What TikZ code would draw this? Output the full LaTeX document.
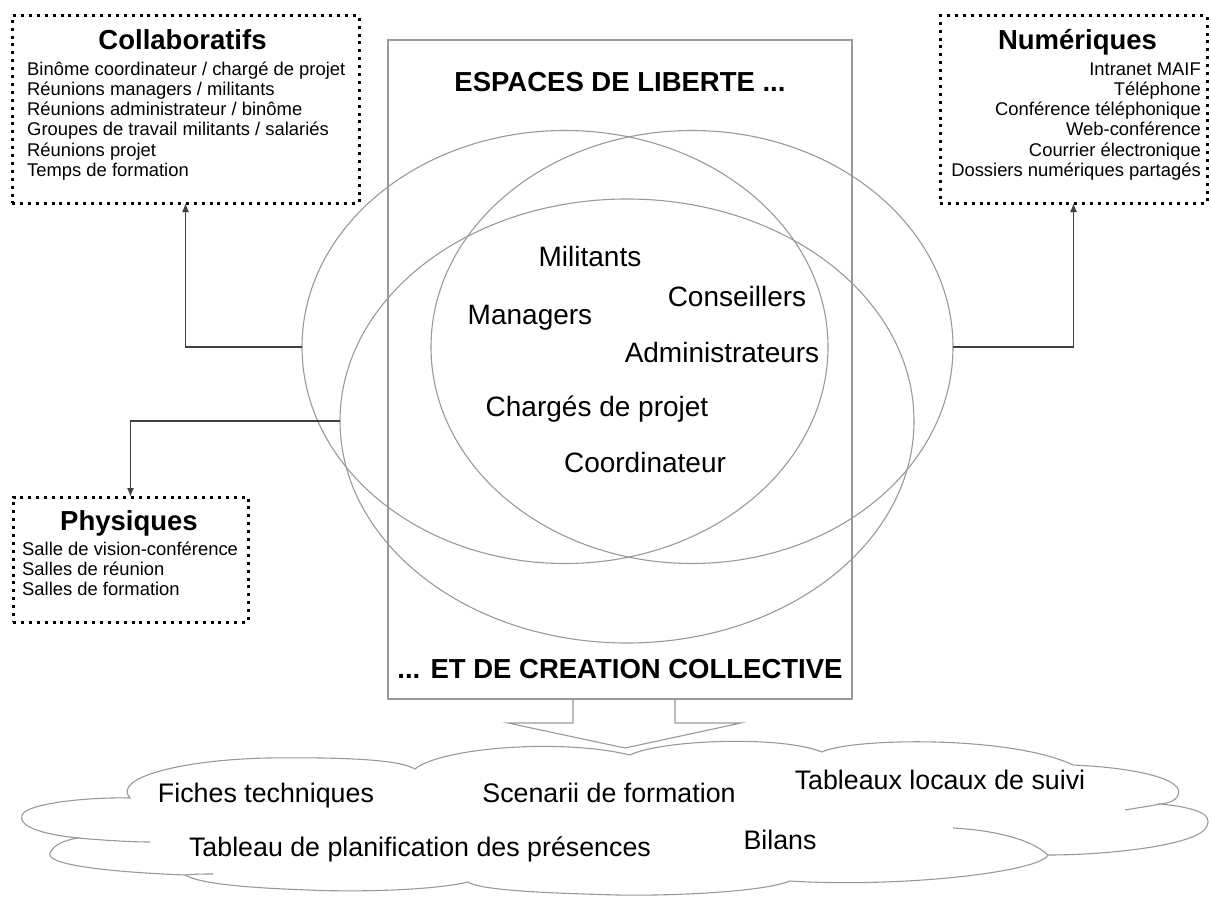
\documentclass[tikz,border=0pt]{standalone}
\usepackage{fontspec}
\setmainfont{Liberation Sans}
\usetikzlibrary{shapes.geometric,arrows.meta}

\begin{document}
\begin{tikzpicture}[x=1pt, y=-1pt,
    venn/.style={draw=black!40, line width=1.1pt, ellipse, inner sep=0pt, outer sep=0pt},
    frame/.style={draw=black!40, line width=1.1pt, inner sep=0pt, outer sep=0pt},
    listbox/.style={draw, line width=3pt, dash pattern=on 3pt off 4.9pt, inner sep=0pt, outer sep=0pt},
    link/.style={draw=black!75, line width=1.3pt, -{Latex[length=9pt,width=7pt]}},
    cloudline/.style={draw=black!40, line width=1.1pt},
    head/.style={font=\bfseries\fontsize{27.5}{31}\selectfont, anchor=base, inner sep=0pt},
    item/.style={font=\fontsize{18.4}{20.3}\selectfont, inner sep=0pt},
    actor/.style={font=\fontsize{28}{32}\selectfont, anchor=base, inner sep=0pt},
    word/.style={font=\fontsize{26.8}{31}\selectfont, anchor=base, inner sep=0pt}]
    \useasboundingbox (0,0) rectangle (1211,899);

    % central frame and the three ellipses
    \node[frame, minimum width=464pt, minimum height=659pt] (espace) at (620,369.5) {};
    \node[venn, minimum width=526pt, minimum height=433pt] (ellL) at (565,347) {};
    \node[venn, minimum width=522pt, minimum height=433pt] (ellR) at (692,347) {};
    \node[venn, minimum width=574pt, minimum height=444pt] (ellB) at (627,421) {};

    \node[head] (liberte) at (620,92) {ESPACES DE LIBERTE ...};
    \node[head] (creation) at (620,678) {... ET DE CREATION COLLECTIVE};

    \node[actor] (militants) at (590,266) {Militants};
    \node[actor] (conseillers) at (737,306) {Conseillers};
    \node[actor] (managers) at (530,324) {Managers};
    \node[actor] (admins) at (722,362) {Administrateurs};
    \node[actor] (charges) at (597,416) {Chargés de projet};
    \node[actor] (coord) at (645,472) {Coordinateur};

    % the three dotted boxes
    \node[listbox, minimum width=347pt, minimum height=187pt] (collab) at (185.5,109.5) {};
    \node[head] (collabT) at (182.5,50) {Collaboratifs};
    \node[item, anchor=base west, align=left] (collabL) at (27,176.5) {Binôme coordinateur / chargé de projet\\Réunions managers / militants\\Réunions administrateur / binôme\\Groupes de travail militants / salariés\\Réunions projet\\Temps de formation};

    \node[listbox, minimum width=267pt, minimum height=187pt] (numer) at (1073.5,109.5) {};
    \node[head] (numerT) at (1077.5,50) {Numériques};
    \node[item, anchor=base east, align=right] (numerL) at (1201,176.5) {Intranet MAIF\\Téléphone\\Conférence téléphonique\\Web-conférence\\Courrier électronique\\Dossiers numériques partagés};

    \node[listbox, minimum width=235pt, minimum height=125pt] (phys) at (130.5,559.5) {};
    \node[head] (physT) at (129,530) {Physiques};
    \node[item, anchor=base west, align=left] (physL) at (22,595.6) {Salle de vision-conférence\\Salles de réunion\\Salles de formation};

    \draw[link] (ellL.west) -| (collab.south);
    \draw[link] (ellR.east) -| (numer.south);
    \draw[link] (ellB.west) -| (phys.north);

    % hollow arrow down to the cloud
    \draw[cloudline] (espace.south) +(-47,0) -- +(-47,24) -- +(-112,24) -- +(5,49) -- +(121,24) -- +(55,24) -- +(55,0);

    % cloud
    \draw[cloudline] (130,798) .. controls (112,778) and (180,760) .. (267,758)
        .. controls (350,757) and (400,760) .. (415,769)
        .. controls (440,748) and (560,738) .. (630,755)
        .. controls (660,740) and (780,735) .. (822,752)
        .. controls (850,738) and (1010,735) .. (1073,765)
        .. controls (1140,768) and (1185,780) .. (1178,795) .. controls (1175,802) and (1168,803) .. (1160,804)
        .. controls (1200,808) and (1212,815) .. (1207,826) .. controls (1200,845) and (1110,855) .. (1048,855)
        .. controls (1040,872) and (900,888) .. (790,881)
        .. controls (760,893) and (660,896) .. (618,895) .. controls (540,893) and (480,890) .. (468,882)
        .. controls (430,891) and (350,892) .. (309,890) .. controls (250,888) and (200,884) .. (185,875)
        .. controls (110,872) and (45,865) .. (50,853) .. controls (53,845) and (65,840) .. (78,838)
        .. controls (40,834) and (18,826) .. (22,815) .. controls (27,803) and (90,797) .. cycle;
    \draw[cloudline] (1048,855) .. controls (1030,838) and (990,830) .. (953,828);
    \draw[cloudline] (78,838) .. controls (100,840) and (130,842) .. (150,842);
    \draw[cloudline] (1160,804) .. controls (1150,806) and (1137,808) .. (1125,810);
    \draw[cloudline] (185,875) .. controls (195,874) and (205,874) .. (213,874);

    \node[word] (fiches) at (266,802) {Fiches techniques};
    \node[word] (scenarii) at (609,802) {Scenarii de formation};
    \node[word] (suivi) at (940,789) {Tableaux locaux de suivi};
    \node[word] (planif) at (420,856) {Tableau de planification des présences};
    \node[word] (bilans) at (780,849) {Bilans};
\end{tikzpicture}
\end{document}
